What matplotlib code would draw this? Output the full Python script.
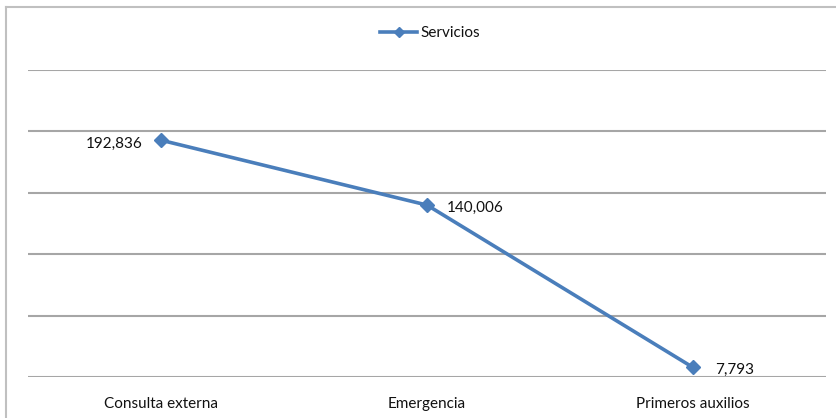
import matplotlib
matplotlib.use('Agg')
import matplotlib.pyplot as plt
from matplotlib.lines import Line2D
from matplotlib.ticker import MultipleLocator

plt.rcParams['font.family'] = ['Lato', 'DejaVu Sans']

# Data
categories = ['Consulta externa', 'Emergencia', 'Primeros auxilios']
servicios = [192836, 140006, 7793]
labels = ['192,836', '140,006', '7,793']

BLUE = '#4a7ebb'
GRID = '#a6a6a6'
TEXT = '#111111'

W, H = 836, 418
fig = plt.figure(figsize=(W / 100, H / 100), dpi=100, facecolor='white')
ax = fig.add_axes([28 / W, 1 - 377 / H, 798 / W, (377 - 70) / H])

x = range(len(categories))
ax.plot(x, servicios, color=BLUE, linewidth=2.6, marker='D', markersize=7,
        label='Servicios', zorder=3)

ax.set_xlim(-0.5, len(categories) - 0.5)
ax.set_ylim(0, 250000)
ax.yaxis.set_major_locator(MultipleLocator(50000))
ax.grid(axis='y', color=GRID, linewidth=1.5)
ax.set_axisbelow(True)
for s in ax.spines.values():
    s.set_visible(False)
ax.tick_params(axis='y', left=False, labelleft=False)
ax.tick_params(axis='x', bottom=False, pad=11, labelsize=11, labelcolor=TEXT)
ax.set_xticks(list(x))
ax.set_xticklabels(categories)

# Data labels
offsets = [(-18, -4, 'right'), (20, -3, 'left'), (22, -2, 'left')]
for i, (val, lab) in enumerate(zip(servicios, labels)):
    dx, dy, ha = offsets[i]
    ax.annotate(lab, (i, val), xytext=(dx * 0.72, dy * 0.72),
                textcoords='offset points', ha=ha, va='center',
                fontsize=11, color=TEXT)

# Legend
fig.legend(loc='center', bbox_to_anchor=(430 / W, 1 - 33 / H), frameon=False,
           fontsize=11, handlelength=2.4, handletextpad=0.2, markerscale=0.8,
           labelcolor=TEXT)

# Chart border (top and left visible)
fig.add_artist(Line2D([6 / W, 1.0], [1 - 7 / H, 1 - 7 / H],
                      transform=fig.transFigure, color='#c0c0c0', linewidth=1.5))
fig.add_artist(Line2D([6 / W, 6 / W], [0, 1 - 7 / H],
                      transform=fig.transFigure, color='#c0c0c0', linewidth=1.5))

fig.savefig('out.png', dpi=100, facecolor='white')
plt.close()
